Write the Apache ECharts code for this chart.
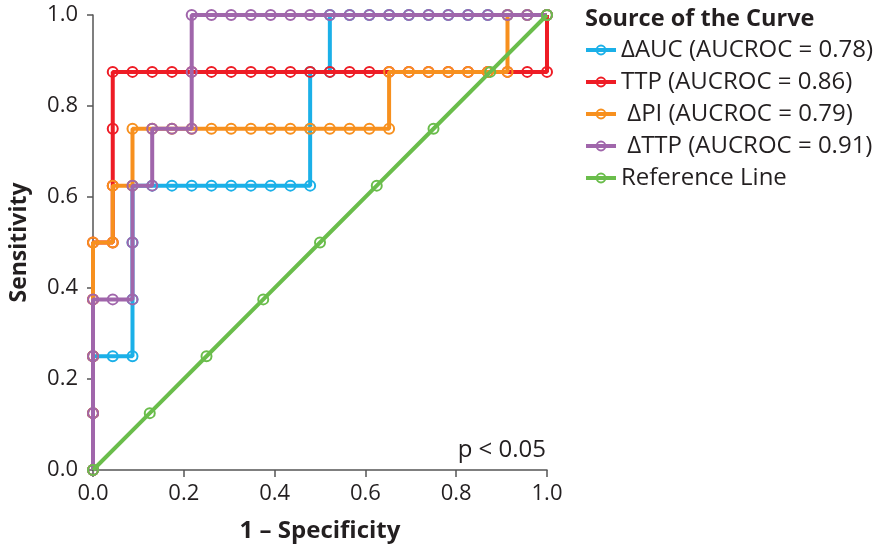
<!DOCTYPE html>
<html>
<head>
<meta charset="utf-8">
<script src="https://cdn.jsdelivr.net/npm/echarts@6/dist/echarts.min.js"></script>
<style>
html,body{margin:0;padding:0;background:#fff;}
#chart{width:881px;height:551px;}
</style>
</head>
<body>
<div id="chart"></div>
<script>
// ---- data ----
const seriesNames = ['ΔAUC (AUCROC = 0.78)', 'TTP (AUCROC = 0.86)', ' ΔPI (AUCROC = 0.79)', ' ΔTTP (AUCROC = 0.91)', 'Reference Line'];
const xTicks = ['0.0', '0.2', '0.4', '0.6', '0.8', '1.0'];

const aucX = [0, 0, 0, 0.0435, 0.0870, 0.0870, 0.0870, 0.0870, 0.1304, 0.1739, 0.2174, 0.2609, 0.3043, 0.3478, 0.3913, 0.4348, 0.4783, 0.4783, 0.4783, 0.5217, 0.5217, 0.5652, 0.6087, 0.6522, 0.6957, 0.7391, 0.7826, 0.8261, 0.8696, 0.9130, 0.9565, 1];
const aucY = [0, 0.125, 0.25, 0.25, 0.25, 0.375, 0.5, 0.625, 0.625, 0.625, 0.625, 0.625, 0.625, 0.625, 0.625, 0.625, 0.625, 0.75, 0.875, 0.875, 1, 1, 1, 1, 1, 1, 1, 1, 1, 1, 1, 1];

const ttpX = [0, 0, 0, 0, 0, 0.0435, 0.0435, 0.0435, 0.0435, 0.0870, 0.1304, 0.1739, 0.2174, 0.2609, 0.3043, 0.3478, 0.3913, 0.4348, 0.4783, 0.5217, 0.5652, 0.6087, 0.6522, 0.6957, 0.7391, 0.7826, 0.8261, 0.8696, 0.9130, 0.9565, 1, 1];
const ttpY = [0, 0.125, 0.25, 0.375, 0.5, 0.5, 0.625, 0.75, 0.875, 0.875, 0.875, 0.875, 0.875, 0.875, 0.875, 0.875, 0.875, 0.875, 0.875, 0.875, 0.875, 0.875, 0.875, 0.875, 0.875, 0.875, 0.875, 0.875, 0.875, 0.875, 0.875, 1];

const piX = [0, 0, 0, 0, 0, 0.0435, 0.0435, 0.0870, 0.0870, 0.1304, 0.1739, 0.2174, 0.2609, 0.3043, 0.3478, 0.3913, 0.4348, 0.4783, 0.5217, 0.5652, 0.6087, 0.6522, 0.6522, 0.6957, 0.7391, 0.7826, 0.8261, 0.8696, 0.9130, 0.9130, 0.9565, 1];
const piY = [0, 0.125, 0.25, 0.375, 0.5, 0.5, 0.625, 0.625, 0.75, 0.75, 0.75, 0.75, 0.75, 0.75, 0.75, 0.75, 0.75, 0.75, 0.75, 0.75, 0.75, 0.75, 0.875, 0.875, 0.875, 0.875, 0.875, 0.875, 0.875, 1, 1, 1];

const dttpX = [0, 0, 0, 0, 0.0435, 0.0870, 0.0870, 0.0870, 0.1304, 0.1304, 0.1739, 0.2174, 0.2174, 0.2174, 0.2609, 0.3043, 0.3478, 0.3913, 0.4348, 0.4783, 0.5217, 0.5652, 0.6087, 0.6522, 0.6957, 0.7391, 0.7826, 0.8261, 0.8696, 0.9130, 0.9565, 1];
const dttpY = [0, 0.125, 0.25, 0.375, 0.375, 0.375, 0.5, 0.625, 0.625, 0.75, 0.75, 0.75, 0.875, 1, 1, 1, 1, 1, 1, 1, 1, 1, 1, 1, 1, 1, 1, 1, 1, 1, 1, 1];

const refX = [0, 0.125, 0.25, 0.375, 0.5, 0.625, 0.75, 0.875, 1];
const refY = [0, 0.125, 0.25, 0.375, 0.5, 0.625, 0.75, 0.875, 1];

const colors = ['#1bb0e8', '#ee1c25', '#f7901e', '#a066ab', '#6abd4b'];

// ---- chart ----
const FONT = '"Open Sans", "Noto Sans", sans-serif';
const pairs = (xs, ys) => xs.map((x, i) => [x, ys[i]]);
const allData = [pairs(aucX, aucY), pairs(ttpX, ttpY), pairs(piX, piY), pairs(dttpX, dttpY), pairs(refX, refY)];

const chart = echarts.init(document.getElementById('chart'), null, {renderer: 'canvas'});
const option = {
  backgroundColor: '#ffffff',
  animation: false,
  title: {
    text: 'Source of the Curve',
    left: 580, top: 2,
    textStyle: {fontFamily: FONT, fontSize: 23.5, fontWeight: 'bold', color: '#231f20'}
  },
  legend: {
    orient: 'vertical',
    left: 579, top: 33,
    itemWidth: 30, itemHeight: 11, itemGap: 8,
    lineStyle: {width: 4},
    itemStyle: {borderWidth: 2},
    textStyle: {fontFamily: FONT, fontSize: 24, color: '#231f20', padding: [0, 0, 0, 0]},
    data: seriesNames
  },
  grid: {left: 92, right: 334, top: 15, bottom: 81, containLabel: false},
  xAxis: {
    type: 'value', min: 0, max: 1, interval: 0.2,
    name: '1 – Specificity', nameLocation: 'middle', nameGap: 49,
    nameTextStyle: {fontFamily: FONT, fontSize: 24, fontWeight: 'bold', color: '#231f20'},
    axisLine: {show: true, onZero: false, lineStyle: {color: '#555555', width: 1.5}},
    axisTick: {show: true, length: 7, lineStyle: {color: '#555555', width: 1.5}},
    axisLabel: {margin: 13, fontFamily: FONT, fontSize: 22, color: '#231f20',
      formatter: v => xTicks[Math.round(v / 0.2)]},
    splitLine: {show: false}
  },
  yAxis: {
    type: 'value', min: 0, max: 1, interval: 0.2,
    name: 'Sensitivity', nameLocation: 'middle', nameGap: 62, nameRotate: 90,
    nameTextStyle: {fontFamily: FONT, fontSize: 23, fontWeight: 'bold', color: '#231f20'},
    axisLine: {show: true, onZero: false, lineStyle: {color: '#555555', width: 1.5}},
    axisTick: {show: true, length: 6, lineStyle: {color: '#555555', width: 1.5}},
    axisLabel: {margin: 15, fontFamily: FONT, fontSize: 22, color: '#231f20',
      formatter: v => xTicks[Math.round(v / 0.2)]},
    splitLine: {show: false}
  },
  series: seriesNames.map((name, i) => ({
    name: name,
    type: 'line',
    data: allData[i],
    symbol: 'circle',
    symbolSize: 10,
    showAllSymbol: true,
    clip: false,
    lineStyle: {color: colors[i], width: 4},
    itemStyle: {color: 'rgba(255,255,255,0)', borderColor: colors[i], borderWidth: 2},
    emphasis: {disabled: true},
    z: 2 + i
  })),
  graphic: [{
    type: 'text',
    right: 335, top: 438,
    style: {text: 'p < 0.05', fontFamily: FONT, fontSize: 24, fill: '#231f20'}
  }]
};
chart.setOption(option);
</script>
</body>
</html>
